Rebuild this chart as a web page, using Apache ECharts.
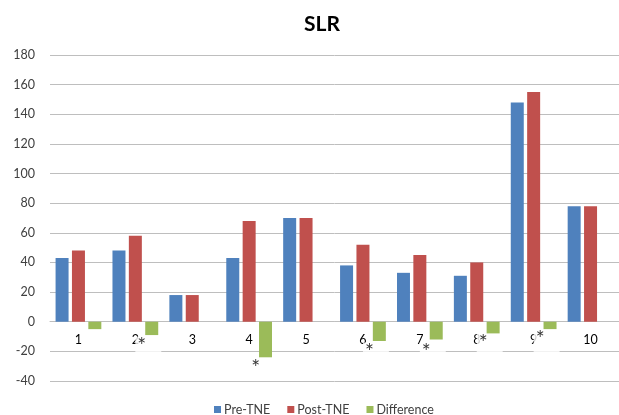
<!DOCTYPE html>
<html>
<head>
<meta charset="utf-8">
<script src="https://cdn.jsdelivr.net/npm/echarts@6/dist/echarts.min.js"></script>
<style>
html,body{margin:0;padding:0;background:#fff;}
#chart{width:619px;height:415px;}
</style>
</head>
<body>
<div id="chart"></div>
<script>
const categories = ['1','2','3','4','5','6','7','8','9','10'];
const preTNE = [43, 48, 18, 43, 70, 38, 33, 31, 148, 78];
const postTNE = [48, 58, 18, 68, 70, 52, 45, 40, 155, 78];
const difference = [-5, -9, 0, -24, 0, -13, -12, -8, -5, 0];
const starCategories = ['2','4','6','7','8','9'];
const starValues = [-10, -25, -14, -14, -8, -5.4];
const yTicks = {min: -40, max: 180, interval: 20};

const FONT = 'Lato';
const chart = echarts.init(document.getElementById('chart'));
const barW = 13;
const gridTop = 55, gridBottom = 34, H = 415;
// shift x axis up so it sits on the zero line
const plotH = H - gridTop - gridBottom;
const zeroOffset = -plotH * (0 - yTicks.min) / (yTicks.max - yTicks.min);
chart.setOption({
  animation: false,
  backgroundColor: '#fff',
  textStyle: {fontFamily: FONT},
  title: {
    text: 'SLR', left: 299, top: 9,
    textStyle: {fontFamily: FONT, fontSize: 21, fontWeight: 'bold', color: '#000'}
  },
  legend: {
    data: ['Pre-TNE', 'Post-TNE', 'Difference'],
    left: 209, top: 398,
    icon: 'rect', itemWidth: 7, itemHeight: 7, itemGap: 17,
    textStyle: {fontFamily: FONT, fontSize: 12.5, color: '#404040', padding: [0,0,0,-2]}
  },
  grid: {left: 50, right: -3, top: gridTop, bottom: gridBottom, containLabel: false},
  xAxis: {
    type: 'category', data: categories,
    offset: zeroOffset,
    axisLine: {onZero: false, lineStyle: {color: '#BEBEBE', width: 1}},
    axisTick: {show: false},
    axisLabel: {fontFamily: FONT, fontSize: 12.5, color: '#000', margin: 12}
  },
  yAxis: {
    type: 'value', min: yTicks.min, max: yTicks.max, interval: yTicks.interval,
    axisLine: {show: false}, axisTick: {show: false},
    axisLabel: {fontFamily: FONT, fontSize: 12.5, color: '#404040', margin: 15},
    splitLine: {lineStyle: {color: '#BEBEBE', width: 1}}
  },
  series: [
    {name: 'Pre-TNE', type: 'bar', data: preTNE, barWidth: barW, barGap: '26%',
     itemStyle: {color: '#4F81BD'}},
    {name: 'Post-TNE', type: 'bar', data: postTNE, barWidth: barW, barGap: '26%',
     itemStyle: {color: '#C0504D'}},
    {name: 'Difference', type: 'bar', data: difference, barWidth: barW, barGap: '26%',
     itemStyle: {color: '#9BBB59'}},
    {name: 'stars', type: 'scatter', z: 5, symbolSize: 0,
     data: starCategories.map((c, i) => ({
       value: [c, starValues[i]],
       label: c === '4' ? {padding: [0, 15, 2, 2]} : undefined
     })),
     label: {
       show: true, formatter: '*', position: 'inside', align: 'left', verticalAlign: 'top',
       offset: [0, 0], fontFamily: FONT, fontSize: 21, lineHeight: 19, color: '#000',
       backgroundColor: '#fff', padding: [0, 15, 6, 2]
     },
     silent: true}
  ]
});
</script>
</body>
</html>
